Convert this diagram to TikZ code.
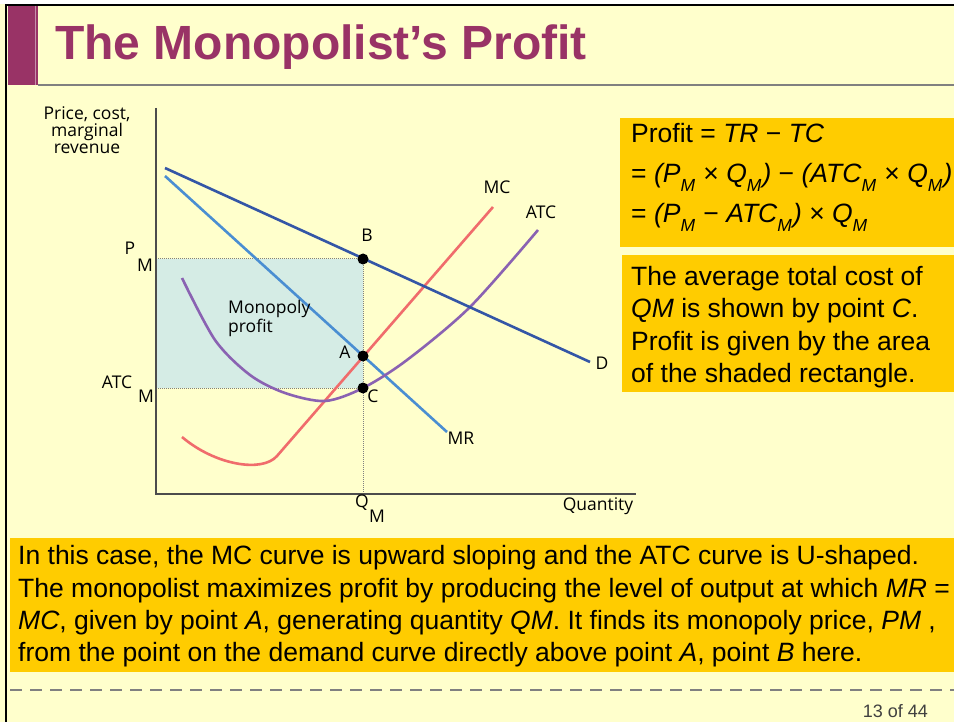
\documentclass[tikz,border=0pt]{standalone}
\usepackage{fontspec}
\setmainfont{Liberation Sans}
\newfontfamily\graphfont{Open Sans}
\usepackage{tikz}
\usetikzlibrary{calc}
\definecolor{paper}{HTML}{FFFFCC}
\definecolor{plum}{HTML}{993366}
\definecolor{gold}{HTML}{FFCC00}
\definecolor{profitfill}{HTML}{D5ECE5}
\definecolor{dblue}{HTML}{3456A6}
\definecolor{lblue}{HTML}{4A8ED2}
\definecolor{salmon}{HTML}{F06C6C}
\definecolor{violet}{HTML}{8A62B2}
\newcommand{\subm}[1]{\raisebox{-0.32em}{\fontsize{17.5}{18}\selectfont\itshape #1}\kern1pt\relax}

\tikzset{
  curve/.style={line width=2.6pt},
  guide/.style={densely dotted,gray,line width=1pt},
  axis/.style={draw=black!70,line width=1.3pt},
  lbl/.style={font=\graphfont\fontsize{17.5}{17}\selectfont,inner sep=0pt},
  boxline/.style={anchor=base west,inner sep=0pt,font=\fontsize{26.5}{32}\selectfont}
}

\begin{document}
\begin{tikzpicture}[x=1pt,y=-1pt]
\useasboundingbox (0,0) rectangle (954,722);
\fill[paper] (0,0) rectangle (954,722);
\fill[white] (0,0) rectangle (954,4);
\draw[black,line width=1.5pt] (6,722)--(6,5)--(954,5);
\fill[plum] (8,6) rectangle (38,85); \draw[plum!55,line width=1pt] (35,6)--(35,85);
\draw[gray,line width=2pt] (38,85)--(954,85);
\node[anchor=base west,text=plum,font=\fontsize{48}{48}\selectfont\bfseries,inner sep=0pt] (title) at (55,60) {The Monopolist’s Profit};

\coordinate (O) at (156,494); \coordinate (ytop) at (156,108); \coordinate (xend) at (636,494);
\coordinate (B) at (363,259); \coordinate (A) at (363,356); \coordinate (C) at (363,388);
\coordinate (pm) at (156,259); \coordinate (atcm) at (156,388); \coordinate (qm) at (363,492);
\fill[profitfill] (pm) rectangle (C);
\draw[guide] (pm)--(B); \draw[guide] (atcm)--(C); \draw[guide] (B)--(qm);
\draw[axis] (ytop)--(O)--(xend);
\coordinate (d0) at (165,168); \coordinate (d1) at (590,362);
\coordinate (mr0) at (165,176); \coordinate (mr1) at (447,432);
\coordinate (mc0) at (182,437); \coordinate (mc1) at (493,207);
\draw[curve,lblue] (mr0)--(mr1);
\draw[curve,salmon] (mc0) .. controls (215,465) and (262,473) .. (277,456)--(mc1);
\draw[curve,violet] plot[smooth] coordinates {(182,278) (215,340) (250,375) (285,393) (325,401) (363,388) (407,360) (470,307) (538,230)};
\draw[curve,dblue] (d0)--(d1);
\foreach \p in {B,A,C} \fill (\p) circle (5.5);

\node[lbl,align=center] (ylab) at (87,130) {Price, cost,\\marginal\\revenue};
\node[lbl] (xlab) at (598,506) {Quantity};
\node[lbl] (lB) at (367,235) {B}; \node[lbl] (lA) at (345,352) {A}; \node[lbl] (lC) at (373,396) {C};
\node[lbl] (lMC) at (497,187) {MC}; \node[lbl] (lATC) at (541,212) {ATC};
\node[lbl] (lD) at (602,363) {D}; \node[lbl] (lMR) at (461,438) {MR};
\node[lbl,align=left,anchor=north west] (lprof) at (228,300) {Monopoly\\profit};
\node[lbl] (lP) at (130,248) {P}; \node[lbl] (lPm) at (145,265) {M};
\node[lbl] (lATCM) at (117,382) {ATC}; \node[lbl] (lATCm) at (146,396) {M};
\node[lbl] (lQ) at (362,503) {Q}; \node[lbl] (lQm) at (377,516) {M};

\fill[gold] (620,118) rectangle (954,247);
\node[boxline] (f1) at (631,143) {Profit = \textit{TR} − \textit{TC}};
\node[boxline] (f2) at (631,183) {= \textit{(P}\subm{M} × \textit{Q}\subm{M}\textit{)} − \textit{(ATC}\subm{M} × \textit{Q}\subm{M}\textit{)}};
\node[boxline] (f3) at (631,223) {= \textit{(P}\subm{M} − \textit{ATC}\subm{M}\textit{)} × \textit{Q}\subm{M}};

\fill[gold] (622,255) rectangle (954,392);
\node[boxline] (n1) at (631,286) {The average total cost of};
\node[boxline] (n2) at (631,318) {\textit{QM} is shown by point \textit{C}.};
\node[boxline] (n3) at (631,350) {Profit is given by the area};
\node[boxline] (n4) at (631,382) {of the shaded rectangle.};

\fill[gold] (10,538) rectangle (954,672);
\node[boxline] (t1) at (18,564) {In this case, the MC curve is upward sloping and the ATC curve is U-shaped.};
\node[boxline] (t2) at (18,597) {The monopolist maximizes profit by producing the level of output at which \textit{MR} =};
\node[boxline] (t3) at (18,629) {\textit{MC}, given by point \textit{A}, generating quantity \textit{QM}. It finds its monopoly price, \textit{PM} ,};
\node[boxline] (t4) at (18,661) {from the point on the demand curve directly above point \textit{A}, point \textit{B} here.};

\draw[gray,line width=2pt,dash pattern=on 12pt off 8pt] (10,690)--(954,690);
\node[anchor=base east,inner sep=0pt,text=black!75,font=\fontsize{18}{18}\selectfont] (page) at (928,717) {13 of 44};
\end{tikzpicture}
\end{document}
